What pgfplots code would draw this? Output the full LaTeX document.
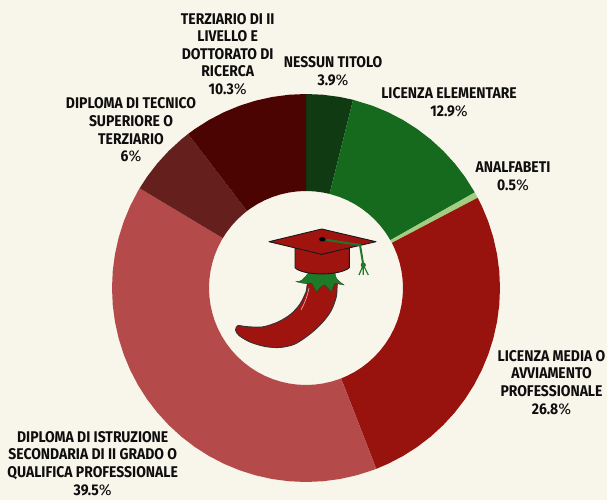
\documentclass[border=0pt]{standalone}
\usepackage{fontspec}
\setmainfont[ItalicFont={Fira Sans Italic},BoldFont={Fira Sans Bold},BoldItalicFont={Fira Sans Bold Italic},BoldFeatures={FakeStretch=0.9}]{Fira Sans}
\usepackage{pgfplots}
\pgfplotsset{compat=1.18}
\usepgfplotslibrary{polar}

\definecolor{bg}{HTML}{F8F5EB}
\definecolor{nessun}{HTML}{0F3A12}
\definecolor{elementare}{HTML}{166A1E}
\definecolor{analfabeti}{HTML}{A2CE82}
\definecolor{media}{HTML}{98120E}
\definecolor{secondaria}{HTML}{B44A4A}
\definecolor{tecnico}{HTML}{65201E}
\definecolor{terziario}{HTML}{4C0403}
\definecolor{capred}{HTML}{A01410}
\definecolor{leaf}{HTML}{1E7A28}
\definecolor{ink}{HTML}{0E0E0E}

\newcommand{\pct}[1]{\textbf{#1}{\mdseries\%}}

\begin{document}
\begin{tikzpicture}
\fill[bg] (0,0) rectangle (607pt,500pt);

% angles in degrees counter clockwise from east, radii in reference pixels
\begin{polaraxis}[
    at={(306pt,212pt)}, anchor=center,
    scale only axis, width=388pt, height=388pt,
    ymin=0, ymax=194, hide axis, clip=false,
]
% nessun titolo 3.9
\addplot[draw=none, fill=nessun] coordinates {
    (90,194) (85,194) (80,194) (75.96,194)
    (75.96,97) (80,97) (85,97) (90,97)
};
% licenza elementare 12.9
\addplot[draw=none, fill=elementare] coordinates {
    (75.96,194) (70,194) (65,194) (60,194) (55,194) (50,194) (45,194) (40,194) (35,194) (29.52,194)
    (29.52,97) (35,97) (40,97) (45,97) (50,97) (55,97) (60,97) (65,97) (70,97) (75.96,97)
};
% analfabeti 0.5
\addplot[draw=none, fill=analfabeti] coordinates {
    (29.52,194) (28.6,194) (27.72,194)
    (27.72,97) (28.6,97) (29.52,97)
};
% licenza media 26.8
\addplot[draw=none, fill=media] coordinates {
    (27.72,194) (25,194) (20,194) (15,194) (10,194) (5,194) (0,194) (-5,194) (-10,194) (-15,194)
    (-20,194) (-25,194) (-30,194) (-35,194) (-40,194) (-45,194) (-50,194) (-55,194) (-60,194) (-65,194) (-68.76,194)
    (-68.76,97) (-65,97) (-60,97) (-55,97) (-50,97) (-45,97) (-40,97) (-35,97) (-30,97) (-25,97)
    (-20,97) (-15,97) (-10,97) (-5,97) (0,97) (5,97) (10,97) (15,97) (20,97) (25,97) (27.72,97)
};
% diploma secondaria 39.5
\addplot[draw=none, fill=secondaria] coordinates {
    (-68.76,194) (-70,194) (-75,194) (-80,194) (-85,194) (-90,194) (-95,194) (-100,194) (-105,194) (-110,194)
    (-115,194) (-120,194) (-125,194) (-130,194) (-135,194) (-140,194) (-145,194) (-150,194) (-155,194) (-160,194)
    (-165,194) (-170,194) (-175,194) (-180,194) (-185,194) (-190,194) (-195,194) (-200,194) (-205,194) (-210,194) (-210.96,194)
    (-210.96,97) (-210,97) (-205,97) (-200,97) (-195,97) (-190,97) (-185,97) (-180,97) (-175,97) (-170,97)
    (-165,97) (-160,97) (-155,97) (-150,97) (-145,97) (-140,97) (-135,97) (-130,97) (-125,97) (-120,97)
    (-115,97) (-110,97) (-105,97) (-100,97) (-95,97) (-90,97) (-85,97) (-80,97) (-75,97) (-70,97) (-68.76,97)
};
% diploma tecnico 6
\addplot[draw=none, fill=tecnico] coordinates {
    (-210.96,194) (-215,194) (-220,194) (-225,194) (-230,194) (-232.56,194)
    (-232.56,97) (-230,97) (-225,97) (-220,97) (-215,97) (-210.96,97)
};
% terziario II livello 10.3
\addplot[draw=none, fill=terziario] coordinates {
    (-232.56,194) (-235,194) (-240,194) (-245,194) (-250,194) (-255,194) (-260,194) (-265,194) (-270,194)
    (-270,97) (-265,97) (-260,97) (-255,97) (-250,97) (-245,97) (-240,97) (-235,97) (-232.56,97)
};
\end{polaraxis}

% from here on x and y are reference pixels, y going down
\begin{scope}[shift={(0pt,500pt)}, x=1pt, y=-1pt]
\tikzset{lab/.style={align=center, text=ink, inner sep=0pt,
    font=\fontsize{15.5}{17.6}\selectfont\bfseries}}

\node[lab] at (227.7,54) {TERZIARIO DI II\\LIVELLO E\\DOTTORATO DI\\RICERCA\\\pct{10.3}};
\node[lab] at (333,71) {NESSUN TITOLO\\\pct{3.9}};
\node[lab] at (131,130) {DIPLOMA DI TECNICO\\SUPERIORE O\\TERZIARIO\\\pct{6}};
\node[lab] at (449,102) {LICENZA ELEMENTARE\\\pct{12.9}};
\node[lab] at (513,176.5) {ANALFABETI\\\pct{0.5}};
\node[lab] at (551.5,382.5) {LICENZA MEDIA O\\AVVIAMENTO\\PROFESSIONALE\\\pct{26.8}};
\node[lab] at (92.7,463.5) {DIPLOMA DI ISTRUZIONE\\SECONDARIA DI II GRADO O\\QUALIFICA PROFESSIONALE\\\pct{39.5}};

% chili body
\draw[fill=capred, draw=black!80, line width=0.9pt, line join=round]
    plot[smooth cycle, tension=0.5] coordinates {
    (310,281) (306,292) (300,304) (291,314) (278,322) (262,327) (245,326.5) (238,325.5) (235.5,330)
    (239,335.5) (250,342) (265,346.5) (280,347.5) (295,344) (310,334) (322,323) (331,311) (336,298)
    (337,288) (335,281)};
\draw[white!70!capred, line width=0.6pt] (309,288) to[bend left=8] (301,310);
% leaves
\fill[leaf, draw=leaf!60!black, line width=0.3pt] (296,281.7) .. controls (302,281) .. (308.3,273)
    -- (335,273) .. controls (336,279) .. (344,285) .. controls (340,285) .. (335,283.3)
    .. controls (333,286) .. (331.7,292.3) .. controls (329,289) .. (325,284.7)
    .. controls (320,287) .. (316.7,292.3) .. controls (315,288) .. (311.7,283.3)
    .. controls (306,284) .. cycle;
% cap
\draw[fill=capred, draw=black!90, line width=0.9pt, line join=round]
    (295,247.3) -- (295,267.7) .. controls (303,276) and (340,276) .. (349.3,267.7) -- (349.3,247.3) -- (321.7,254.3) -- cycle;
\draw[fill=capred, draw=black!90, line width=0.9pt, line join=round]
    (269,241.7) -- (321.7,229) -- (376,241.7) -- (321.7,254.3) -- cycle;
% tassel
\draw[leaf, line width=2pt, line cap=round] (326.7,240) -- (360,245) -- (363.3,265);
\draw[black!70, line width=0.8pt, dash pattern=on 1.5pt off 4pt] (326.7,240) -- (360,245) -- (363.3,265);
\fill[leaf] (363.3,265) circle (2.6);
\draw[leaf, line width=1.2pt] (363.3,265) -- (359,275) (363.3,265) -- (363.3,275) (363.3,265) -- (368.3,275);
\fill[black] (322.3,239.3) ellipse (3.2 and 2.2);
\end{scope}
\end{tikzpicture}
\end{document}
